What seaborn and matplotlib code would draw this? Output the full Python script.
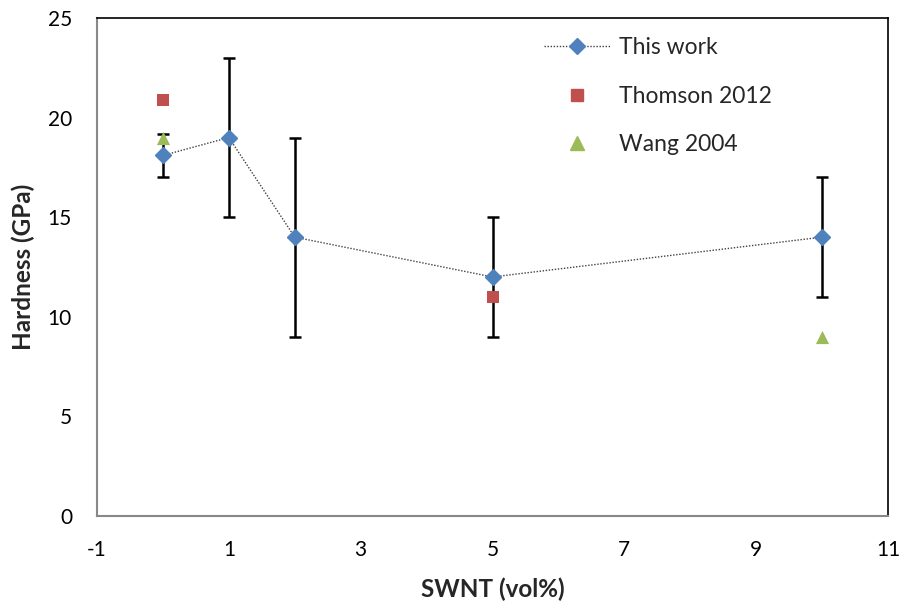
import matplotlib
matplotlib.use("Agg")
import matplotlib.pyplot as plt
import seaborn as sns
import pandas as pd
from matplotlib.lines import Line2D

# Data
this_x = [0, 1, 2, 5, 10]
this_y = [18.1, 19, 14, 12, 14]
this_err = [1.1, 4, 5, 3, 3]
thomson_x = [0, 5]
thomson_y = [20.9, 11]
wang_x = [0, 10]
wang_y = [19, 9]
x_ticks = [-1, 1, 3, 5, 7, 9, 11]
y_ticks = [0, 5, 10, 15, 20, 25]

BLUE = "#4F81BD"
RED = "#C0504D"
GREEN = "#9BBB59"

sns.set_theme(style="white")
plt.rcParams['font.family'] = ['Lato', 'DejaVu Sans']

fig = plt.figure(figsize=(9.05, 6.1), dpi=100)
ax = fig.add_axes([97/905, 94/610, 791/905, 498/610])

df_this = pd.DataFrame({"x": this_x, "y": this_y})
df_th = pd.DataFrame({"x": thomson_x, "y": thomson_y})
df_w = pd.DataFrame({"x": wang_x, "y": wang_y})

ax.errorbar(this_x, this_y, yerr=this_err, fmt='none', ecolor='black',
            elinewidth=1.8, capsize=4.5, capthick=1.8, zorder=2)
sns.lineplot(data=df_this, x="x", y="y", ax=ax, color="#404040",
             linestyle=(0, (1, 1.2)), linewidth=1.0, zorder=3, sort=False)
ax.plot(this_x, this_y, linestyle='none', marker='D', markersize=8.5,
        color=BLUE, markeredgecolor=BLUE, zorder=4)
sns.scatterplot(data=df_th, x="x", y="y", ax=ax, marker='s', s=75,
                color=RED, edgecolor=RED, linewidth=0, zorder=5)
sns.scatterplot(data=df_w, x="x", y="y", ax=ax, marker='^', s=90,
                color=GREEN, edgecolor=GREEN, linewidth=0, zorder=5)

ax.set_xlim(-1, 11)
ax.set_ylim(0, 25)
ax.set_xticks(x_ticks)
ax.set_yticks(y_ticks)
ax.set_xticklabels([str(v) for v in x_ticks])
ax.set_yticklabels([str(v) for v in y_ticks])
ax.tick_params(axis='both', direction='out', length=6, width=1.2,
               color='#888888', labelsize=15, labelcolor='black')
ax.tick_params(axis='y', pad=12)
ax.tick_params(axis='x', pad=11)

for side in ['left', 'bottom']:
    ax.spines[side].set_color('#888888')
    ax.spines[side].set_linewidth(1.5)
for side in ['top', 'right']:
    ax.spines[side].set_color('black')
    ax.spines[side].set_linewidth(1.2)
    ax.spines[side].set_visible(True)

ax.set_xlabel("SWNT (vol%)", fontsize=17.5, fontweight='bold', labelpad=13)
ax.set_ylabel("Hardness (GPa)", fontsize=17.5, fontweight='bold', labelpad=9)

handles = [
    Line2D([0], [0], color="#404040", linestyle=(0, (1, 1.2)), linewidth=1.0,
           marker='D', markersize=8.5, markerfacecolor=BLUE, markeredgecolor=BLUE),
    Line2D([0], [0], linestyle='none', marker='s', markersize=8.5,
           markerfacecolor=RED, markeredgecolor=RED),
    Line2D([0], [0], linestyle='none', marker='^', markersize=9.5,
           markerfacecolor=GREEN, markeredgecolor=GREEN),
]
ax.legend(handles, ["This work", "Thomson 2012", "Wang 2004"], loc='upper left',
          bbox_to_anchor=(0.553, 0.98), frameon=False, fontsize=16.5,
          handlelength=2.9, labelspacing=1.2, handletextpad=0.4,
          borderaxespad=0.0)

fig.savefig("out.png", dpi=100)
